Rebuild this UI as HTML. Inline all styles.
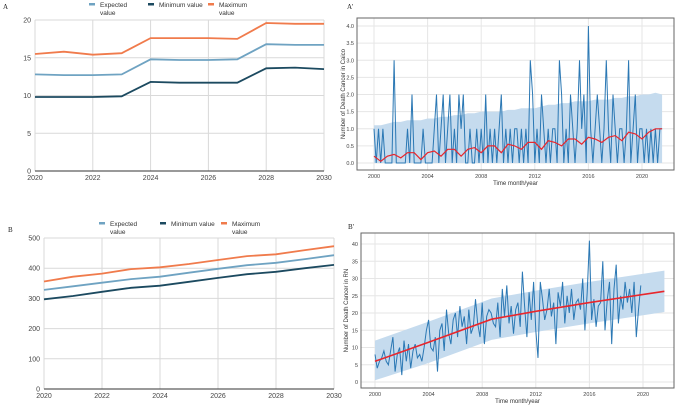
<!DOCTYPE html>
<html><head><meta charset="utf-8"><style>
html,body{margin:0;padding:0;background:#fff;}
svg{display:block;font-family:"Liberation Sans",sans-serif;}
</style></head><body>
<svg id="svg" width="681" height="408" viewBox="0 0 681 408"></svg>
<script>
// ---- Panel A data ----
const yearsA = [2020,2021,2022,2023,2024,2025,2026,2027,2028,2029,2030];
const expA = [12.8,12.7,12.7,12.8,14.8,14.7,14.7,14.8,16.8,16.7,16.7];
const minA = [9.8,9.8,9.8,9.9,11.8,11.7,11.7,11.7,13.6,13.7,13.5];
const maxA = [15.5,15.8,15.4,15.6,17.6,17.6,17.6,17.5,19.6,19.5,19.5];
const yTicksA = [0,5,10,15,20];
const xTicksAB = [2020,2022,2024,2026,2028,2030];
// ---- Panel B data ----
const expB = [328,340,352,364,372,385,398,410,418,430,443];
const minB = [297,308,322,335,342,355,368,380,388,400,411];
const maxB = [356,372,382,397,403,414,427,440,446,460,473];
const yTicksB = [0,100,200,300,400,500];
// ---- Panel A' data (bimonthly) ----
const actualA2 = [1,0,1,0,1,0, 0,0,0,3,0,0, 0,0,0,1,0,2, 0,0,0,0,1,0, 0,0,0,1,2,0, 1,2,0,1,2,0,
 1,0,2,1,2,0, 0,1,0,0,1,0, 1,0,2,0,1,0, 1,0,1,2,0,1, 0,1,0,1,1,0, 1,0,1,0,3,2,
 0,1,0,2,1,0, 1,0,1,1,0,3, 2,0,1,0,2,1, 0,1,3,1,2,0, 4,1,0,1,2,1, 0,1,3,1,0,2,
 1,0,1,1,0,1, 3,0,1,2,0,1, 1,0,1,0,1,0, 1,0,1,1];
const fitA2 = [0.2,0.05,0.2,0.25,0.15,0.3,0.3,0.1,0.3,0.35,0.2,0.4,0.4,0.2,0.4,0.45,0.3,0.5,0.5,0.3,0.55,0.5,0.4,0.6,0.6,0.4,0.65,0.6,0.5,0.7,0.7,0.55,0.75,0.7,0.6,0.75,0.8,0.65,0.9,0.85,0.7,0.9,1.0,1.0];
const bandHiA2 = [1.1,1.1,1.15,1.2,1.2,1.25,1.25,1.25,1.3,1.3,1.35,1.35,1.4,1.4,1.45,1.45,1.5,1.5,1.5,1.5,1.55,1.55,1.6,1.6,1.6,1.65,1.7,1.7,1.75,1.75,1.8,1.8,1.8,1.85,1.85,1.85,1.9,1.9,1.95,1.95,2.0,2.0,2.05,2.0];
const yTicksA2 = [0,0.5,1,1.5,2,2.5,3,3.5,4];
const xTicksCD = [2000,2004,2008,2012,2016,2020];
// ---- Panel B' data (bimonthly 2000-2019) ----
const actualB2 = [8,4,6,7,9,6, 5,9,13,3,8,10, 2,12,6,11,4,9, 11,7,8,6,10,15, 18,10,9,13,3,15,
 17,9,21,14,11,18, 20,13,22,16,19,11, 21,14,16,24,17,13, 23,11,19,21,20,17, 16,23,13,27,19,28,
 17,22,14,21,23,16, 32,22,13,26,18,29, 15,7,29,24,18,21, 27,19,23,11,26,22, 29,17,25,20,27,18,
 23,24,21,30,15,26, 41,18,24,16,22,23, 35,15,24,29,11,27, 34,17,25,21,29,23, 27,20,29,13,21,28];
const fitYearsB2 = [2000,2004,2008.7,2012,2016,2021.6];
const fitB2 = [6,11.5,18.2,20.5,23,26.3];
const bandLoB2 = [0.5,5.5,12.2,14.5,17,20.3];
const bandHiB2 = [12,17.5,24.2,26.5,29,32.3];
const yTicksB2 = [0,5,10,15,20,25,30,35,40];

const NS='http://www.w3.org/2000/svg', svg=document.getElementById('svg');
function el(tag, attrs, parent){const e=document.createElementNS(NS,tag);for(const k in attrs)e.setAttribute(k,attrs[k]);(parent||svg).appendChild(e);return e;}
function txt(s,attrs,parent){const e=el('text',attrs,parent);e.textContent=s;return e;}
function lin(d0,d1,r0,r1){return v=>r0+(v-d0)*(r1-r0)/(d1-d0);}
function path(xs,ys,sx,sy){return xs.map((x,i)=>(i?'L':'M')+sx(x).toFixed(1)+','+sy(ys[i]).toFixed(1)).join('');}

const C_EXP='#6fa3c2', C_MIN='#1c4a60', C_MAX='#f07b4c';

function forecastPanel(o){
  const g=el('g',{});  
  const sx=lin(2020,2030,o.x0,o.x1), sy=lin(0,o.ymax,o.yb,o.yt);
  xTicksAB.forEach(t=>{const l=el('line',{x1:sx(t),x2:sx(t),y1:o.yt,y2:o.yb,stroke:'#d9d9d9','stroke-width':1},g);
    
    const tx=txt(t,{x:sx(t),y:o.yb+9,'font-size':7,fill:'#444','text-anchor':'middle'},g);
    });
  o.yticks.forEach(t=>{const l=el('line',{x1:o.x0,x2:o.x1,y1:sy(t),y2:sy(t),stroke:t===0?'#333':'#d9d9d9','stroke-width':1},g);
    
    const tx=txt(t,{x:o.x0-4,y:sy(t)+2.5,'font-size':7,fill:'#444','text-anchor':'end'},g);
    });
  [[o.exp,C_EXP,'expected-line'],[o.min,C_MIN,'minimum-line'],[o.max,C_MAX,'maximum-line']].forEach(s=>{
    const p=el('path',{d:path(yearsA,s[0],sx,sy),fill:'none',stroke:s[1],'stroke-width':1.8},g);
    });
  const leg=[['Expected','value',C_EXP,o.lx[0]],['Minimum value','',C_MIN,o.lx[1]],['Maximum','value',C_MAX,o.lx[2]]];
  leg.forEach(L=>{const lg=el('g',{},g);
    el('rect',{x:L[3],y:o.ly-2,width:6,height:2.5,fill:L[2]},lg);
    txt(L[0],{x:L[3]+11,y:o.ly+2,'font-size':6.5,fill:'#333'},lg);
    if(L[1])txt(L[1],{x:L[3]+11,y:o.ly+10,'font-size':6.5,fill:'#333'},lg);});
  txt(o.label,{x:o.labx,y:o.laby,'font-size':7,fill:'#222','font-family':'Liberation Serif, serif'},g);
}
forecastPanel({name:'panel-a',x0:35,x1:324,yt:20,yb:171,ymax:20,yticks:yTicksA,exp:expA,min:minA,max:maxA,lx:[89,148,208],ly:5,label:'A',labx:3,laby:9});
forecastPanel({name:'panel-b',x0:44,x1:334,yt:238,yb:389,ymax:500,yticks:yTicksB,exp:expB,min:minB,max:maxB,lx:[99,160,221],ly:224,label:'B',labx:8,laby:232});

function tsPanel(o){
  const g=el('g',{});  
  const sx=lin(2000,2020,o.x2000,o.x2020), sy=lin(0,o.ymax,o.y0,o.ytop);
  o.yticks.forEach(t=>{const l=el('line',{x1:o.fx0,x2:o.fx1,y1:sy(t),y2:sy(t),stroke:'#e6e6e6','stroke-width':1},g);
    
    const tx=txt(o.fmt(t),{x:o.fx0-3,y:sy(t)+2,'font-size':5.5,fill:'#444','text-anchor':'end'},g);
    });
  xTicksCD.forEach(t=>{const l=el('line',{x1:sx(t),x2:sx(t),y1:o.fy0,y2:o.fy1,stroke:'#e6e6e6','stroke-width':1},g);
    
    const tx=txt(t,{x:sx(t),y:o.fy1+8,'font-size':5.5,fill:'#444','text-anchor':'middle'},g);
    });
  o.draw(g,sx,sy);
  const f=el('rect',{x:o.fx0,y:o.fy0,width:o.fx1-o.fx0,height:o.fy1-o.fy0,fill:'none',stroke:'#666','stroke-width':1},g);
  
  const xt=txt('Time month/year',{x:(o.fx0+o.fx1)/2,y:o.fy1+15,'font-size':6,fill:'#333','text-anchor':'middle'},g);
  
  const cy=(o.fy0+o.fy1)/2;
  const yt=txt(o.ytitle,{x:o.ytx,y:cy,'font-size':6,fill:'#333','text-anchor':'middle',transform:`rotate(-90 ${o.ytx} ${cy})`},g);
  
  txt(o.label,{x:o.labx,y:o.laby,'font-size':7,fill:'#222','font-family':'Liberation Serif, serif'},g);
}
const BLUE='#2b78b4', BAND='#c5dbee', RED='#e8262c';
tsPanel({name:'panel-a-prime',fx0:357,fx1:674,fy0:18,fy1:170,x2000:374,x2020:642,y0:163,ytop:26,ymax:4,yticks:yTicksA2,fmt:t=>t.toFixed(1),
  ytitle:'Number of Death Cancer in Caico',ytx:345,label:"A'",labx:347,laby:9,
  draw:(g,sx,sy)=>{
    const fy=fitA2.map((v,i)=>2000+i*0.5);
    const up=fy.map((y,i)=>sx(y).toFixed(1)+','+sy(bandHiA2[i]).toFixed(1));
    const dn=fy.slice().reverse().map(y=>sx(y).toFixed(1)+','+sy(0).toFixed(1));
    const b=el('polygon',{points:up.concat(dn).join(' '),fill:BAND},g);
    
    const ay=actualA2.map((v,i)=>2000+i/6);
    const a=el('path',{d:path(ay,actualA2,sx,sy),fill:'none',stroke:BLUE,'stroke-width':1},g);
    
    const r=el('path',{d:path(fy,fitA2,sx,sy),fill:'none',stroke:RED,'stroke-width':1.2},g);
    
  }});
tsPanel({name:'panel-b-prime',fx0:361,fx1:674,fy0:233,fy1:388,x2000:375,x2020:643,y0:382,ytop:244,ymax:40,yticks:yTicksB2,fmt:t=>String(t),
  ytitle:'Number of Death Cancer in RN',ytx:348,label:"B'",labx:348,laby:229,
  draw:(g,sx,sy)=>{
    const up=fitYearsB2.map((y,i)=>sx(y).toFixed(1)+','+sy(bandHiB2[i]).toFixed(1));
    const dn=fitYearsB2.map((y,i)=>sx(y).toFixed(1)+','+sy(bandLoB2[i]).toFixed(1)).reverse();
    const b=el('polygon',{points:up.concat(dn).join(' '),fill:BAND},g);
    
    const ay=actualB2.map((v,i)=>2000+i/6);
    const a=el('path',{d:path(ay,actualB2,sx,sy),fill:'none',stroke:BLUE,'stroke-width':1},g);
    
    const r=el('path',{d:path(fitYearsB2,fitB2,sx,sy),fill:'none',stroke:RED,'stroke-width':1.6},g);
    
  }});
</script>
</body></html>
